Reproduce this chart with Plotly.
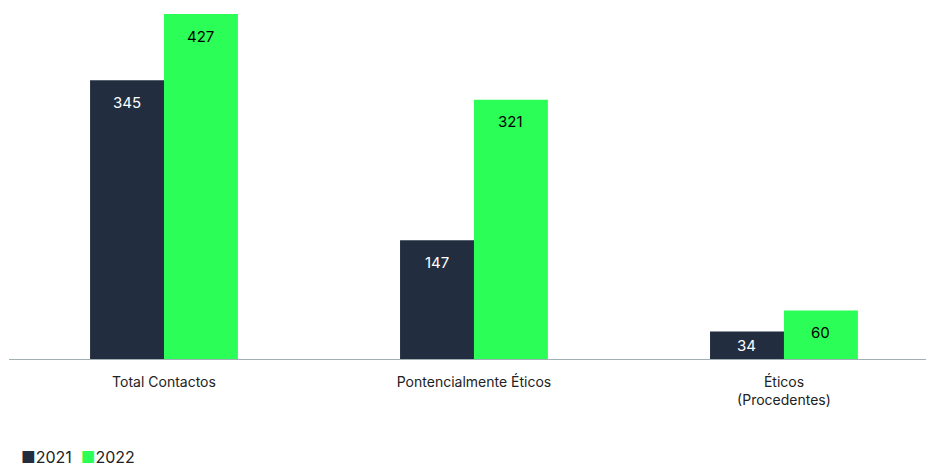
import plotly.graph_objects as go

categories = ["Total Contactos", "Pontencialmente Éticos", "Éticos<br>(Procedentes)"]
values_2021 = [345, 147, 34]
values_2022 = [427, 321, 60]
series_names = ["2021", "2022"]

DARK = "#222e3f"
GREEN = "#2bff57"
FONT = "Inter"

fig = go.Figure()
fig.add_trace(go.Bar(x=categories, y=values_2021, name=series_names[0],
                     marker=dict(color=DARK, line=dict(width=0))))
fig.add_trace(go.Bar(x=categories, y=values_2022, name=series_names[1],
                     marker=dict(color=GREEN, line=dict(width=0))))

px_per_unit = 345 / 427.0
annotations = []
for vals, shift, col in [(values_2021, -37, "white"), (values_2022, 37, "black")]:
    for c, v in zip(categories, vals):
        h = v * px_per_unit
        ys = -min(22, h / 2)
        annotations.append(dict(x=c, y=v, xref="x", yref="y", text=str(v),
                                showarrow=False, xshift=shift, yshift=ys,
                                yanchor="middle",
                                font=dict(family=FONT, size=15, color=col)))

legend_text = (f"<span style='color:{DARK}'>■</span>{series_names[0]}&nbsp;&nbsp;"
               f"<span style='color:{GREEN}'>■</span>{series_names[1]}")
annotations.append(dict(x=0.011, y=-0.284, xref="paper", yref="paper", text=legend_text,
                        showarrow=False, xanchor="left", yanchor="middle",
                        font=dict(family=FONT, size=16, color="#222222")))

fig.update_layout(
    width=926, height=458,
    margin=dict(l=1, r=0, t=6, b=107, autoexpand=False),
    paper_bgcolor="white", plot_bgcolor="white",
    barmode="group", bargap=0.523, bargroupgap=0,
    font=dict(family=FONT, size=14, color="#222222"),
    showlegend=False,
    annotations=annotations,
    xaxis=dict(range=[-0.5, 2.484], showgrid=False, showline=True,
               linecolor="#a3b0b3", linewidth=1, ticks="", ticklabelstandoff=10,
               tickfont=dict(family=FONT, size=14, color="#222222"), fixedrange=True),
    yaxis=dict(range=[0, 427], visible=False, showgrid=False, zeroline=False, fixedrange=True),
)

fig.write_html("out.html")
